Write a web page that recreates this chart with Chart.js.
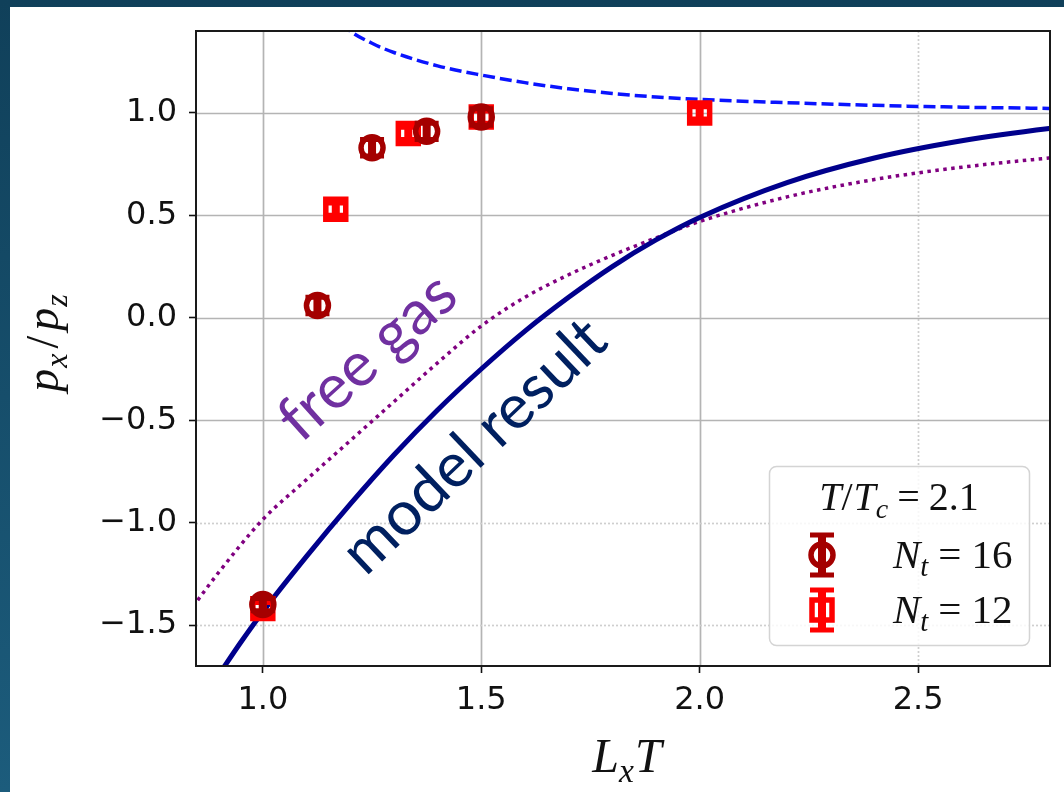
<!DOCTYPE html>
<html><head><meta charset="utf-8">
<script src="https://cdn.jsdelivr.net/npm/chart.js@4.4.1/dist/chart.umd.min.js"></script>
<style>
html,body{margin:0;padding:0;}
body{width:1064px;height:792px;background:linear-gradient(#10405a,#1c5c7c);position:relative;overflow:hidden;}
#wrap{position:absolute;left:10px;top:7px;width:1054px;height:785px;background:#fff;}
canvas{display:block;}
</style></head><body>
<div id="wrap"><canvas id="c" width="1054" height="785"></canvas></div>
<script>
// ---- data ----
const xTicks = [1.0, 1.5, 2.0, 2.5];
const yTicks = [-1.5, -1.0, -0.5, 0.0, 0.5, 1.0];
const dottedXGrid = [2.5];
const dottedYGrid = [-1.0, -1.5];

const nt16X = [1.0, 1.125, 1.25, 1.375, 1.5];
const nt16Y = [-1.40, 0.06, 0.83, 0.91, 0.98];
const nt16Err = [0.03, 0.04, 0.04, 0.04, 0.04];

const nt12X = [1.0, 1.167, 1.333, 1.5, 2.0];
const nt12Y = [-1.42, 0.53, 0.90, 0.98, 1.00];
const nt12Err = [0.03, 0.03, 0.03, 0.03, 0.03];

const modelX = [0.90, 0.95, 1.00, 1.10, 1.20, 1.30, 1.40, 1.50, 1.60, 1.70, 1.80, 1.90, 2.00, 2.20, 2.40, 2.60, 2.80, 2.85];
const modelY = [-1.74, -1.583, -1.435, -1.165, -0.91, -0.67, -0.45, -0.25, -0.065, 0.10, 0.25, 0.38, 0.49, 0.66, 0.78, 0.864, 0.924, 0.935];

const freeX = [0.84, 0.90, 1.00, 1.10, 1.20, 1.30, 1.40, 1.50, 1.60, 1.70, 1.80, 1.90, 2.00, 2.20, 2.40, 2.60, 2.80, 2.85];
const freeY = [-1.41, -1.24, -0.985, -0.79, -0.60, -0.41, -0.22, -0.04, 0.10, 0.21, 0.305, 0.39, 0.47, 0.59, 0.675, 0.735, 0.78, 0.79];

const limitX = [1.18, 1.20, 1.25, 1.30, 1.40, 1.50, 1.60, 1.70, 1.80, 1.90, 2.00, 2.20, 2.40, 2.60, 2.80, 2.85];
const limitY = [1.44, 1.40, 1.34, 1.295, 1.23, 1.185, 1.148, 1.118, 1.095, 1.078, 1.066, 1.05, 1.037, 1.028, 1.022, 1.02];

const annoFree = 'free gas';
const annoModel = 'model result';

// ---- styles ----
const C16 = '#a40000', C12 = '#ff0000';
const pts = (xs, ys) => xs.map((x, i) => ({x, y: ys[i]}));
const fmt = v => (v < 0 ? '\u2212' : '') + Math.abs(v).toFixed(1);

const BAR_W = 8, CAP_W = 24, CAP_T = 5;
function drawErrBar(ctx, x, yTop, yBot, color) {
  ctx.save();
  ctx.strokeStyle = color; ctx.lineCap = 'butt'; ctx.setLineDash([]);
  ctx.lineWidth = BAR_W;
  ctx.beginPath(); ctx.moveTo(x, yTop); ctx.lineTo(x, yBot); ctx.stroke();
  ctx.lineWidth = CAP_T;
  ctx.beginPath();
  ctx.moveTo(x - CAP_W/2, yTop); ctx.lineTo(x + CAP_W/2, yTop);
  ctx.moveTo(x - CAP_W/2, yBot); ctx.lineTo(x + CAP_W/2, yBot);
  ctx.stroke();
  ctx.restore();
}
function drawCircleMarker(ctx, x, y) {
  ctx.save(); ctx.strokeStyle = C16; ctx.lineWidth = 5.5;
  ctx.beginPath(); ctx.arc(x, y, 11, 0, Math.PI*2); ctx.stroke(); ctx.restore();
}
function drawSquareMarker(ctx, x, y) {
  ctx.save(); ctx.strokeStyle = C12; ctx.lineWidth = 5.5;
  ctx.strokeRect(x - 10, y - 10, 20, 20); ctx.restore();
}

function mathWidth(ctx, parts, size) {
  let w = 0;
  for (const p of parts) {
    const s = p.sub ? size * 0.7 : size;
    ctx.font = (p.it ? 'italic ' : '') + s + 'px "Liberation Serif"';
    w += ctx.measureText(p.t).width + (p.gap || 0);
  }
  return w;
}
function drawMath(ctx, parts, x, y, size, align) {
  const w = mathWidth(ctx, parts, size);
  let cx = align === 'center' ? x - w/2 : x;
  ctx.textBaseline = 'alphabetic'; ctx.textAlign = 'left'; ctx.fillStyle = '#111';
  for (const p of parts) {
    const s = p.sub ? size * 0.7 : size;
    ctx.font = (p.it ? 'italic ' : '') + s + 'px "Liberation Serif"';
    ctx.fillText(p.t, cx, y + (p.sub ? size * 0.2 : 0));
    cx += ctx.measureText(p.t).width + (p.gap || 0);
  }
}

const customPlugin = {
  id: 'custom',
  beforeDatasetsDraw(chart) {
    const {ctx, chartArea: a, scales: {x, y}} = chart;
    ctx.save();
    ctx.beginPath(); ctx.rect(a.left, a.top, a.right - a.left, a.bottom - a.top); ctx.clip();
    for (const v of xTicks) {
      const px = Math.round(x.getPixelForValue(v)) + 0.5;
      const dotted = dottedXGrid.includes(v);
      ctx.strokeStyle = dotted ? '#cfcfcf' : '#b4b4b4';
      ctx.lineWidth = 1.7; ctx.setLineDash(dotted ? [2, 2] : []);
      ctx.beginPath(); ctx.moveTo(px, a.top); ctx.lineTo(px, a.bottom); ctx.stroke();
    }
    for (const v of yTicks) {
      const py = Math.round(y.getPixelForValue(v)) + 0.5;
      const dotted = dottedYGrid.includes(v);
      ctx.strokeStyle = dotted ? '#cfcfcf' : '#b4b4b4';
      ctx.lineWidth = 1.7; ctx.setLineDash(dotted ? [2, 2] : []);
      ctx.beginPath(); ctx.moveTo(a.left, py); ctx.lineTo(a.right, py); ctx.stroke();
    }
    ctx.restore();
  },
  beforeDatasetDraw(chart, args) {
    const ds = chart.data.datasets[args.index];
    if (!ds.errs) return;
    const {ctx, scales: {x, y}} = chart;
    ds.data.forEach((p, i) => {
      const px = x.getPixelForValue(p.x);
      drawErrBar(ctx, px, y.getPixelForValue(p.y + ds.errs[i]), y.getPixelForValue(p.y - ds.errs[i]), ds.borderColor);
    });
  },
  afterDatasetsDraw(chart) {
    const {ctx, chartArea: a} = chart;
    ctx.save();
    ctx.strokeStyle = '#1a1a1a'; ctx.lineWidth = 2; ctx.setLineDash([]);
    ctx.strokeRect(a.left, a.top, a.right - a.left, a.bottom - a.top);
    ctx.restore();

    // annotations
    ctx.save();
    const fam = '"Lato", "Open Sans", sans-serif';
    ctx.font = '60px ' + fam;
    const wm = ctx.measureText(annoModel).width;
    const size = 60 * 338 / wm;
    ctx.font = size + 'px ' + fam;
    ctx.textAlign = 'center'; ctx.textBaseline = 'alphabetic';
    ctx.save();
    ctx.translate(478, 454); ctx.rotate(-43.5 * Math.PI / 180);
    ctx.fillStyle = '#002060'; ctx.fillText(annoModel, 0, 0);
    ctx.restore();
    ctx.save();
    ctx.translate(371, 365); ctx.rotate(-42 * Math.PI / 180);
    ctx.fillStyle = '#7030a0'; ctx.fillText(annoFree, 0, 0);
    ctx.restore();
    ctx.restore();

    // legend
    ctx.save();
    const L = 759, T = 459, W = 260, H = 179, r = 7;
    ctx.beginPath();
    ctx.roundRect(L + 0.5, T + 0.5, W, H, r);
    ctx.fillStyle = 'rgba(255,255,255,0.82)'; ctx.fill();
    ctx.strokeStyle = '#d4d4d4'; ctx.lineWidth = 1.5; ctx.stroke();
    drawMath(ctx, [{t:'T', it:true}, {t:'/', gap:1}, {t:'T', it:true}, {t:'c', it:true, sub:true, gap:9}, {t:'=', gap:9}, {t:'2.1'}], 889, 503, 40, 'center');
    const ey = [548, 603];
    drawErrBar(ctx, 812, ey[0] - 20, ey[0] + 20, C16);
    drawCircleMarker(ctx, 812, ey[0]);
    drawErrBar(ctx, 812, ey[1] - 20, ey[1] + 20, C12);
    drawSquareMarker(ctx, 812, ey[1]);
    const nt = (n) => [{t:'N', it:true}, {t:'t', it:true, sub:true, gap:10}, {t:'=', gap:10}, {t:n}];
    drawMath(ctx, nt('16'), 883, 561, 41, 'left');
    drawMath(ctx, nt('12'), 883, 616, 41, 'left');
    ctx.restore();
  },
  afterDraw(chart) {
    const {ctx} = chart;
    ctx.save();
    drawMath(ctx, [{t:'L', it:true}, {t:'x', it:true, sub:true, gap:1}, {t:'T', it:true}], 617, 765, 48, 'center');
    ctx.translate(48, 336); ctx.rotate(-Math.PI / 2);
    drawMath(ctx, [{t:'p', it:true, gap:1}, {t:'x', it:true, sub:true, gap:5}, {t:'/', gap:5}, {t:'p', it:true, gap:1}, {t:'z', it:true, sub:true}], 0, 0, 46, 'center');
    ctx.restore();
  }
};

const lineDs = (label, xs, ys, color, width, dash) => ({
  label, data: pts(xs, ys), showLine: true, borderColor: color, borderWidth: width,
  borderDash: dash, pointRadius: 0, cubicInterpolationMode: 'monotone', clip: 0, order: 10, fill: false
});

const zeroPad = s => { s.paddingTop = 0; s.paddingBottom = 0; s.paddingLeft = 0; s.paddingRight = 0; };

new Chart(document.getElementById('c'), {
  type: 'scatter',
  data: {
    datasets: [
      {label: 'N_t=16', data: pts(nt16X, nt16Y), errs: nt16Err, pointStyle: 'circle', pointRadius: 11,
       borderWidth: 5.5, borderColor: C16, backgroundColor: 'rgba(0,0,0,0)', pointBorderColor: C16, order: 1},
      {label: 'N_t=12', data: pts(nt12X, nt12Y), errs: nt12Err, pointStyle: 'rect', pointRadius: 14.1,
       borderWidth: 5.5, borderColor: C12, backgroundColor: 'rgba(0,0,0,0)', pointBorderColor: C12, order: 2},
      lineDs('limit', limitX, limitY, '#0a14ff', 3.5, [12, 5]),
      lineDs('model', modelX, modelY, '#00008c', 5, []),
      lineDs('free', freeX, freeY, '#800080', 3.5, [3.5, 4.5])
    ]
  },
  options: {
    responsive: false, animation: false, devicePixelRatio: 1,
    layout: {autoPadding: false, padding: {left: 0, top: 24, right: 14, bottom: 0}},
    plugins: {legend: {display: false}, tooltip: {enabled: false}},
    scales: {
      x: {
        type: 'linear', min: 0.847, max: 2.802,
        afterBuildTicks: s => { s.ticks = xTicks.map(v => ({value: v})); },
        afterFit: s => { s.height = 126; zeroPad(s); },
        ticks: {callback: v => fmt(v), font: {family: '"DejaVu Sans"', size: 32}, color: '#111', padding: 8, maxRotation: 0},
        grid: {drawOnChartArea: false, drawTicks: true, tickLength: 7, tickColor: '#111', tickWidth: 1.6},
        border: {display: false}
      },
      y: {
        type: 'linear', min: -1.70, max: 1.40,
        afterBuildTicks: s => { s.ticks = yTicks.map(v => ({value: v})); },
        afterFit: s => { s.width = 186; zeroPad(s); },
        ticks: {callback: v => fmt(v), font: {family: '"DejaVu Sans"', size: 32}, color: '#111', padding: 12},
        grid: {drawOnChartArea: false, drawTicks: true, tickLength: 7, tickColor: '#111', tickWidth: 1.6},
        border: {display: false}
      }
    }
  },
  plugins: [customPlugin]
});
</script>
</body></html>
